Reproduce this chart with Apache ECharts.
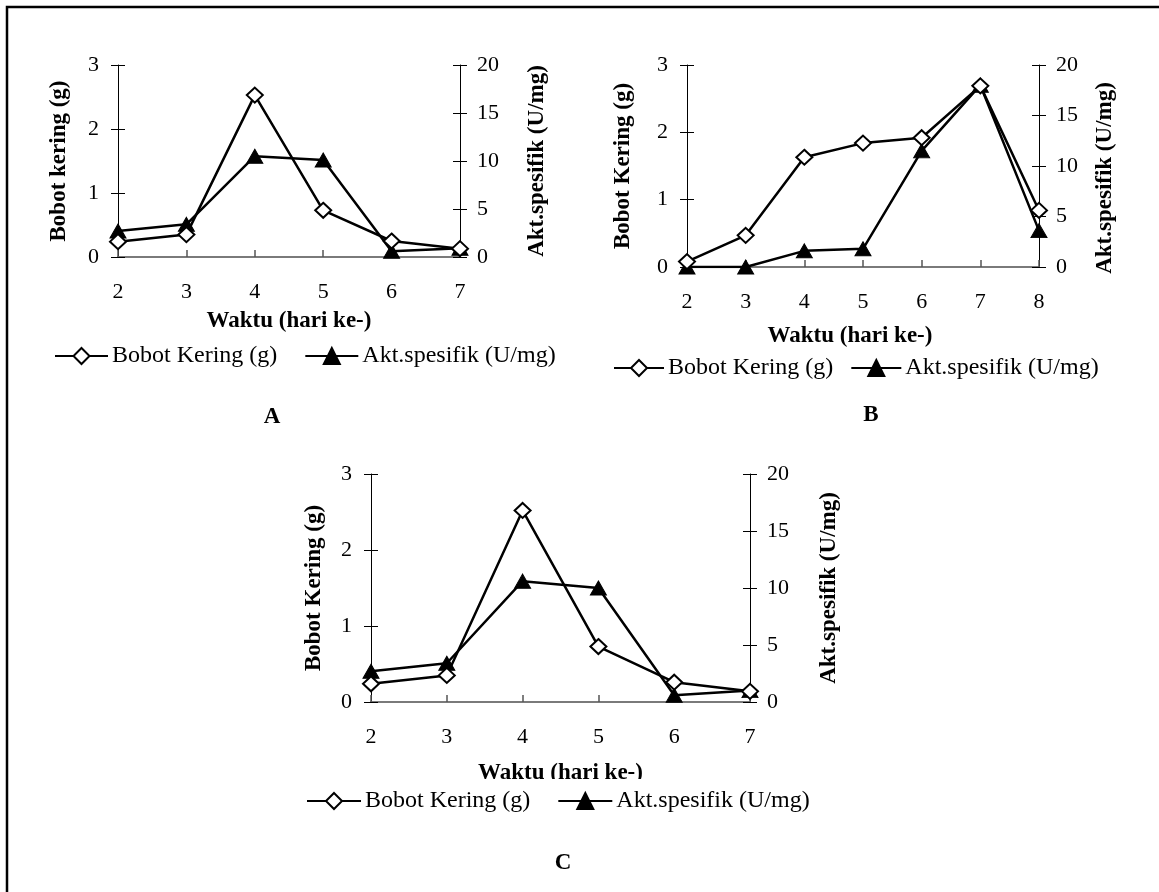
<!DOCTYPE html>
<html><head><meta charset="utf-8">
<script src="https://cdn.jsdelivr.net/npm/echarts@6/dist/echarts.min.js"></script>
<style>html,body{margin:0;padding:0;background:#fff}#chart{width:1159px;height:892px}</style>
</head><body><div id="chart"></div>
<script>
// ---- data ----
const categoriesAC = ['2', '3', '4', '5', '6', '7'];
const categoriesB = ['2', '3', '4', '5', '6', '7', '8'];
const bobotA = [0.24, 0.35, 2.53, 0.73, 0.25, 0.13];
const aktA = [2.7, 3.4, 10.5, 10.1, 0.6, 0.9];
const bobotB = [0.08, 0.47, 1.63, 1.84, 1.92, 2.69, 0.84];
const aktB = [0, 0, 1.6, 1.8, 11.5, 18.0, 3.6];
const bobotC = [0.24, 0.35, 2.52, 0.73, 0.26, 0.14];
const aktC = [2.7, 3.4, 10.6, 10.0, 0.6, 1.0];
const leftAxisRange = { min: 0, max: 3, interval: 1 };
const rightAxisRange = { min: 0, max: 20, interval: 5 };
const seriesNames = ['Bobot Kering (g)', 'Akt.spesifik (U/mg)'];
const xAxisTitle = 'Waktu (hari ke-)';
const leftTitles = ['Bobot kering (g)', 'Bobot Kering (g)', 'Bobot Kering (g)'];
const rightTitle = 'Akt.spesifik (U/mg)';
const panelLetters = ['A', 'B', 'C'];

// ---- layout ----
const FONT = "'Liberation Serif', 'Times New Roman', serif";
const panels = [
  { cats: categoriesAC, bobot: bobotA, akt: aktA, leftTitle: leftTitles[0], letter: panelLetters[0],
    grid: { left: 118, top: 65, width: 342, height: 192 },
    xNameGap: 53, xNamePad: [0, 0, 0, 0], leftNameGap: 47, rightNameGap: 66, rightNamePad: [0, 0, 0, 0],
    legend: { left: 49, top: 339, itemWidth: 53, itemGap: 27, padding: 5 }, letterPos: [272, 417] },
  { cats: categoriesB, bobot: bobotB, akt: aktB, leftTitle: leftTitles[1], letter: panelLetters[1],
    grid: { left: 687, top: 65, width: 352, height: 202 },
    xNameGap: 58, xNamePad: [0, 26, 0, 0], leftNameGap: 52, rightNameGap: 55, rightNamePad: [0, 24, 0, 0],
    legend: { left: 608, top: 351, itemWidth: 50, itemGap: 17, padding: 5 }, letterPos: [871, 415] },
  { cats: categoriesAC, bobot: bobotC, akt: aktC, leftTitle: leftTitles[2], letter: panelLetters[2],
    grid: { left: 371, top: 474, width: 379, height: 228 },
    xNameGap: 60, xNamePad: [0, 0, 0, 0], leftNameGap: 45, rightNameGap: 68, rightNamePad: [0, 0, 0, 0],
    legend: { left: 301, top: 779, itemWidth: 54, itemGap: 27, padding: [10, 5, 5, 5] }, letterPos: [563, 863] }
];

const grids = [], xAxes = [], yAxes = [], series = [], legends = [], graphics = [];
const nameStyle = { fontWeight: 'bold', fontSize: 23, fontFamily: FONT, color: '#000' };
const labelStyle = { fontSize: 22, fontFamily: FONT, color: '#000' };

panels.forEach((p, i) => {
  grids.push(Object.assign({ outerBoundsMode: 'none', containLabel: false }, p.grid));
  xAxes.push({
    type: 'category', gridIndex: i, data: p.cats, boundaryGap: false,
    axisLine: { show: true, lineStyle: { color: '#7a7a7a', width: 2 } },
    axisTick: { show: true, inside: true, length: 7, lineStyle: { color: '#555', width: 1.5 } },
    axisLabel: Object.assign({ margin: 24 }, labelStyle),
    splitLine: { show: false },
    name: xAxisTitle, nameLocation: 'middle', nameGap: p.xNameGap,
    nameTextStyle: Object.assign({ padding: p.xNamePad }, nameStyle)
  });
  const base = 4 * i;
  yAxes.push(Object.assign({
    type: 'value', gridIndex: i, position: 'left',
    axisLine: { show: true, lineStyle: { color: '#000', width: 1 } },
    axisTick: { show: true, length: 7, lineStyle: { color: '#000', width: 1 } },
    axisLabel: Object.assign({ margin: 19 }, labelStyle),
    splitLine: { show: false },
    name: p.leftTitle, nameLocation: 'middle', nameGap: p.leftNameGap, nameTextStyle: nameStyle
  }, leftAxisRange));
  yAxes.push(Object.assign({
    type: 'value', gridIndex: i, position: 'right',
    axisLine: { show: true, lineStyle: { color: '#000', width: 1 } },
    axisTick: { show: true, length: 7, lineStyle: { color: '#000', width: 1 } },
    axisLabel: Object.assign({ margin: 17 }, labelStyle),
    splitLine: { show: false },
    name: rightTitle, nameLocation: 'middle', nameGap: p.rightNameGap,
    nameTextStyle: Object.assign({ padding: p.rightNamePad }, nameStyle)
  }, rightAxisRange));
  yAxes.push(Object.assign({
    type: 'value', gridIndex: i, position: 'left',
    axisLine: { show: false }, axisLabel: { show: false }, splitLine: { show: false },
    axisTick: { show: true, inside: true, length: 7, lineStyle: { color: '#000', width: 1 } }
  }, leftAxisRange));
  yAxes.push(Object.assign({
    type: 'value', gridIndex: i, position: 'right',
    axisLine: { show: false }, axisLabel: { show: false }, splitLine: { show: false },
    axisTick: { show: true, inside: true, length: 7, lineStyle: { color: '#000', width: 1 } }
  }, rightAxisRange));

  series.push({
    type: 'line', name: seriesNames[0], xAxisIndex: i, yAxisIndex: base, data: p.bobot,
    symbol: 'diamond', symbolSize: [16, 15], showAllSymbol: true,
    lineStyle: { color: '#000', width: 2.5 },
    itemStyle: { color: '#fff', borderColor: '#000', borderWidth: 2 },
    emphasis: { disabled: true }, z: 3
  });
  series.push({
    type: 'line', name: seriesNames[1], xAxisIndex: i, yAxisIndex: base + 1, data: p.akt,
    symbol: 'triangle', symbolSize: [16, 14], showAllSymbol: true,
    lineStyle: { color: '#000', width: 2.5 },
    itemStyle: { color: '#000', borderColor: '#000', borderWidth: 1 },
    emphasis: { disabled: true }, z: 2
  });

  legends.push({
    data: seriesNames, orient: 'horizontal', left: p.legend.left, top: p.legend.top,
    itemWidth: p.legend.itemWidth, itemHeight: 20, itemGap: p.legend.itemGap,
    padding: p.legend.padding, backgroundColor: '#fff', z: 10,
    textStyle: { fontSize: 24, fontFamily: FONT, color: '#000', padding: [0, 0, 0, -1] }
  });

  graphics.push({
    type: 'text', x: p.letterPos[0], y: p.letterPos[1],
    style: { text: p.letter, font: 'bold 23px ' + FONT, fill: '#000', align: 'center', verticalAlign: 'middle' }
  });
});

graphics.push({
  type: 'polyline', shape: { points: [[7, 892], [7, 7], [1159, 7]] },
  style: { stroke: '#000', lineWidth: 2.5, fill: null }
});

const chart = echarts.init(document.getElementById('chart'), null, { renderer: 'canvas' });
chart.setOption({
  backgroundColor: '#fff',
  animation: false,
  grid: grids, xAxis: xAxes, yAxis: yAxes, series: series, legend: legends,
  graphic: graphics
});
</script>
</body></html>
